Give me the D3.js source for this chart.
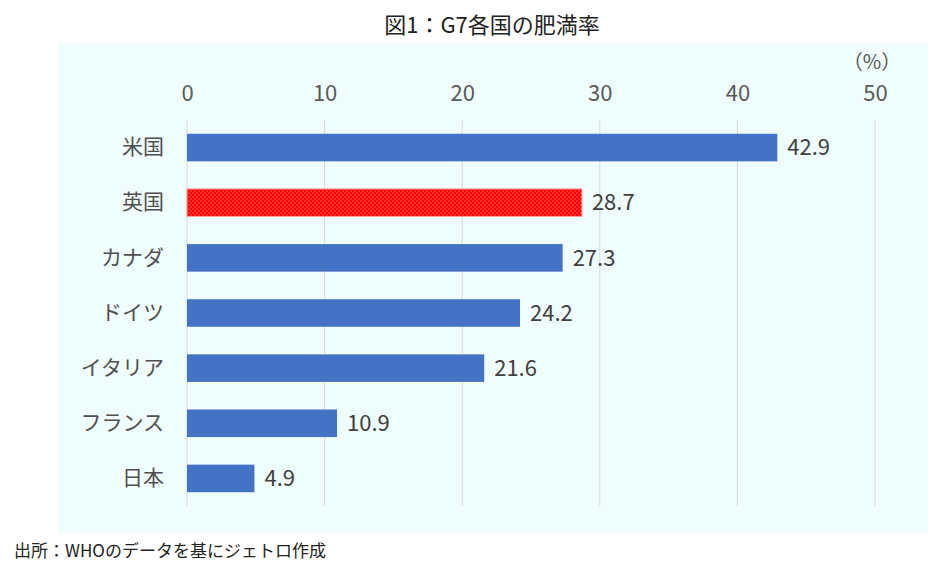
<!DOCTYPE html>
<html>
<head>
<meta charset="utf-8">
<script src="https://cdn.jsdelivr.net/npm/d3@7"></script>
<style>
  body { margin: 0; background: #fff; }
  text { font-family: "Noto Sans CJK JP", "Noto Sans", sans-serif; }
</style>
</head>
<body>
<div id="chart"></div>
<script>
var width = 941
var height = 561

// data
var countries = ["米国", "英国", "カナダ", "ドイツ", "イタリア", "フランス", "日本"]
var rates = [42.9, 28.7, 27.3, 24.2, 21.6, 10.9, 4.9]
var ticks = [0, 10, 20, 30, 40, 50]
var highlight = "英国"

var svg = d3.select("#chart")
    .append("svg")
    .attr("width", width)
    .attr("height", height)

// dotted fill for the highlighted bar
var pat = svg.append("defs").append("pattern")
    .attr("id", "dots")
    .attr("width", 4).attr("height", 4)
    .attr("patternUnits", "userSpaceOnUse")
pat.append("rect").attr("width", 4).attr("height", 4).attr("fill", "#ff0000")
pat.append("circle").attr("cx", 1).attr("cy", 1).attr("r", 0.7).attr("fill", "#ff8a8a")
pat.append("circle").attr("cx", 3).attr("cy", 3).attr("r", 0.7).attr("fill", "#ff8a8a")

// plot background
svg.append("rect")
    .attr("x", 58).attr("y", 43)
    .attr("width", 870).attr("height", 490)
    .attr("fill", "#effdfd")

var x = d3.scaleLinear().domain([0, 50]).range([187, 875])
var y = d3.scaleBand().domain(countries).range([120, 506])
    .paddingInner(0.5).paddingOuter(0.25)

var font = "\"Noto Sans CJK JP\", \"Noto Sans\", sans-serif"

// title
svg.append("text")
    .attr("x", 492).attr("y", 33)
    .attr("text-anchor", "middle")
    .style("font-size", "22px")
    .style("fill", "#222")
    .text("図1：G7各国の肥満率")

// gridlines
svg.append("g").selectAll("line")
    .data(ticks)
    .join("line")
    .attr("x1", d => x(d)).attr("x2", d => x(d))
    .attr("y1", 120).attr("y2", 506)
    .attr("stroke", "#d9d9d9")
    .attr("stroke-width", 1)

// top axis labels
var xAxis = svg.append("g")
    .attr("transform", "translate(0,101)")
    .call(d3.axisTop(x).tickValues(ticks).tickSize(0).tickPadding(0))
xAxis.select(".domain").remove()
xAxis.selectAll("text")
    .style("font-size", "22px")
    .style("fill", "#595959")
    .style("font-family", font)

svg.append("text")
    .attr("x", x(50) - 3).attr("y", 69)
    .attr("text-anchor", "middle")
    .style("font-size", "20px")
    .style("fill", "#595959")
    .text("（%）")

// category labels
var yAxis = svg.append("g")
    .attr("transform", "translate(164,0)")
    .call(d3.axisLeft(y).tickSize(0).tickPadding(0))
yAxis.select(".domain").remove()
yAxis.selectAll("text")
    .style("font-size", "21px")
    .style("fill", "#505050")
    .style("font-family", font)

// bars
svg.append("g").selectAll("rect")
    .data(countries)
    .join("rect")
    .attr("x", x(0))
    .attr("y", d => y(d))
    .attr("width", (d, i) => x(rates[i]) - x(0))
    .attr("height", y.bandwidth())
    .attr("fill", d => d == highlight ? "url(#dots)" : "#4472c4")
    .attr("stroke", d => d == highlight ? "#ff9a9a" : "none")
    .attr("stroke-width", 1)

// value labels
svg.append("g").selectAll("text")
    .data(countries)
    .join("text")
    .attr("x", (d, i) => x(rates[i]) + 10)
    .attr("y", d => y(d) + y.bandwidth() / 2)
    .attr("dy", "0.35em")
    .style("font-size", "22px")
    .style("fill", "#404040")
    .text((d, i) => d3.format(".1f")(rates[i]))

// source note
svg.append("text")
    .attr("x", 14).attr("y", 557)
    .style("font-size", "17px")
    .style("fill", "#222")
    .text("出所：WHOのデータを基にジェトロ作成")
</script>
</body>
</html>
